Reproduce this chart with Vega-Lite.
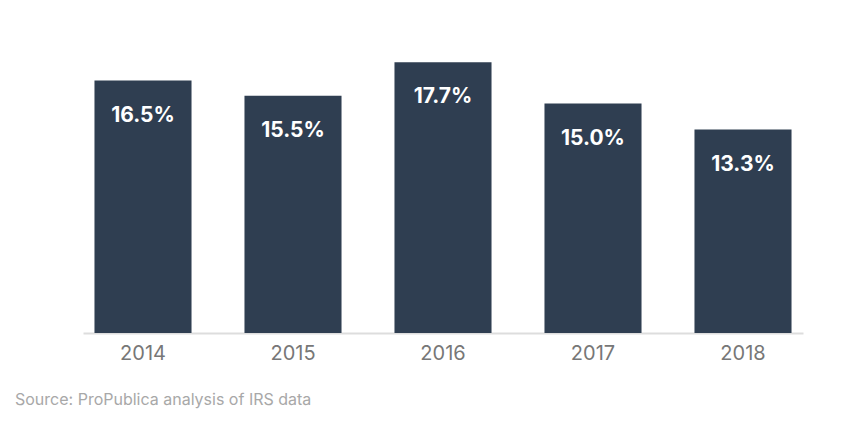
{
  "$schema": "https://vega.github.io/schema/vega-lite/v6.json",
  "width": 720,
  "height": 306,
  "autosize": {"type": "none"},
  "padding": {"left": 83, "top": 27, "right": 43, "bottom": 105},
  "background": "white",
  "config": {"view": {"stroke": null}, "font": "Inter"},
  "title": {
    "text": "Source: ProPublica analysis of IRS data",
    "orient": "bottom",
    "anchor": "start",
    "dx": -68,
    "offset": 29,
    "fontSize": 16,
    "fontWeight": "normal",
    "color": "#a8a8a8",
    "font": "Inter"
  },
  "data": {
    "values": [
      {"year": "2014", "pct": 16.5, "label": "16.5%"},
      {"year": "2015", "pct": 15.5, "label": "15.5%"},
      {"year": "2016", "pct": 17.7, "label": "17.7%"},
      {"year": "2017", "pct": 15.0, "label": "15.0%"},
      {"year": "2018", "pct": 13.3, "label": "13.3%"}
    ]
  },
  "encoding": {
    "x": {
      "field": "year",
      "type": "nominal",
      "scale": {"paddingInner": 0.353, "paddingOuter": 0.0765},
      "axis": {
        "title": null,
        "labelAngle": 0,
        "labelFontSize": 20,
        "labelColor": "#777777",
        "labelPadding": 10,
        "ticks": false,
        "domainColor": "#dddddd",
        "domainWidth": 2,
        "labelFont": "Inter"
      }
    },
    "y": {
      "field": "pct",
      "type": "quantitative",
      "scale": {"domain": [0, 20], "nice": false},
      "axis": null
    }
  },
  "layer": [
    {"mark": {"type": "bar", "color": "#2f3e51"}},
    {
      "mark": {
        "type": "text",
        "color": "white",
        "fontSize": 21,
        "fontWeight": "bold",
        "baseline": "alphabetic",
        "dy": 41,
        "font": "Inter"
      },
      "encoding": {"text": {"field": "label"}}
    }
  ]
}
